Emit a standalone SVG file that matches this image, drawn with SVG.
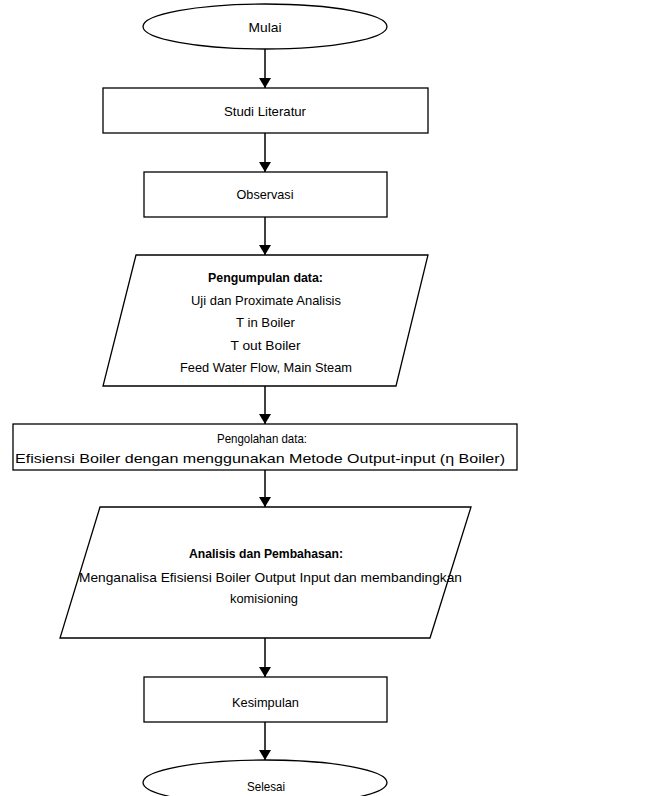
<svg xmlns="http://www.w3.org/2000/svg" width="653" height="796" viewBox="0 0 653 796">
<style>
.s{fill:#fff;stroke:#000;stroke-width:1.3}
.t{font-family:"Liberation Sans",Arial,sans-serif;font-size:13.5px;fill:#000;text-anchor:middle}
.b{font-weight:bold}
.c{stroke:#000;stroke-width:1.5;fill:none}
</style>
<defs>
<marker id="ah" markerWidth="10" markerHeight="12" refX="10" refY="6" orient="auto" markerUnits="userSpaceOnUse">
<path d="M0,0 L10,6 L0,12 Z" fill="#000"/>
</marker>
</defs>
<rect width="653" height="796" fill="#fff"/>
<g id="connectors">
<line class="c" x1="265" y1="49" x2="265" y2="88" marker-end="url(#ah)"/>
<line class="c" x1="265" y1="133" x2="265" y2="172" marker-end="url(#ah)"/>
<line class="c" x1="265" y1="217" x2="265" y2="255" marker-end="url(#ah)"/>
<line class="c" x1="265" y1="386" x2="265" y2="424" marker-end="url(#ah)"/>
<line class="c" x1="265" y1="470" x2="265" y2="507" marker-end="url(#ah)"/>
<line class="c" x1="265" y1="638" x2="265" y2="677" marker-end="url(#ah)"/>
<line class="c" x1="265" y1="722" x2="265" y2="760" marker-end="url(#ah)"/>
</g>
<g id="mulai">
<ellipse class="s" cx="265" cy="26.5" rx="122" ry="22.5"/>
<text class="t" x="265" y="32" textLength="33" lengthAdjust="spacingAndGlyphs">Mulai</text>
</g>
<g id="studi">
<rect class="s" x="103" y="88" width="325" height="45"/>
<text class="t" x="265" y="116" textLength="82" lengthAdjust="spacingAndGlyphs">Studi Literatur</text>
</g>
<g id="observasi">
<rect class="s" x="144" y="172" width="243" height="45"/>
<text class="t" x="265" y="199" textLength="57" lengthAdjust="spacingAndGlyphs">Observasi</text>
</g>
<g id="pengumpulan">
<polygon class="s" points="136,255 428,255 396,386 103,386"/>
<text class="t b" x="265.5" y="282" textLength="115" lengthAdjust="spacingAndGlyphs">Pengumpulan data:</text>
<text class="t" x="266" y="305" textLength="150" lengthAdjust="spacingAndGlyphs">Uji dan Proximate Analisis</text>
<text class="t" x="265.5" y="327" textLength="59" lengthAdjust="spacingAndGlyphs">T in Boiler</text>
<text class="t" x="265.5" y="350" textLength="70" lengthAdjust="spacingAndGlyphs">T out Boiler</text>
<text class="t" x="266" y="372" textLength="172" lengthAdjust="spacingAndGlyphs">Feed Water Flow, Main Steam</text>
</g>
<g id="pengolahan">
<rect class="s" x="13" y="424" width="504" height="46"/>
<text class="t" x="262" y="443" textLength="90" lengthAdjust="spacingAndGlyphs">Pengolahan data:</text>
<text class="t" x="260" y="463" textLength="490" lengthAdjust="spacingAndGlyphs">Efisiensi Boiler dengan menggunakan Metode Output-input (η Boiler)</text>
</g>
<g id="analisis">
<polygon class="s" points="100,507 471,507 430,638 60,638"/>
<text class="t b" x="266" y="558" textLength="154" lengthAdjust="spacingAndGlyphs">Analisis dan Pembahasan:</text>
<text class="t" x="270.5" y="582" textLength="383" lengthAdjust="spacingAndGlyphs">Menganalisa Efisiensi Boiler Output Input  dan membandingkan</text>
<text class="t" x="264" y="603" textLength="68" lengthAdjust="spacingAndGlyphs">komisioning</text>
</g>
<g id="kesimpulan">
<rect class="s" x="144" y="677" width="243" height="45"/>
<text class="t" x="265.5" y="707" textLength="67" lengthAdjust="spacingAndGlyphs">Kesimpulan</text>
</g>
<g id="selesai">
<ellipse class="s" cx="265" cy="782.5" rx="122" ry="22.5"/>
<text class="t" x="266" y="791" textLength="38" lengthAdjust="spacingAndGlyphs">Selesai</text>
</g>
</svg>
